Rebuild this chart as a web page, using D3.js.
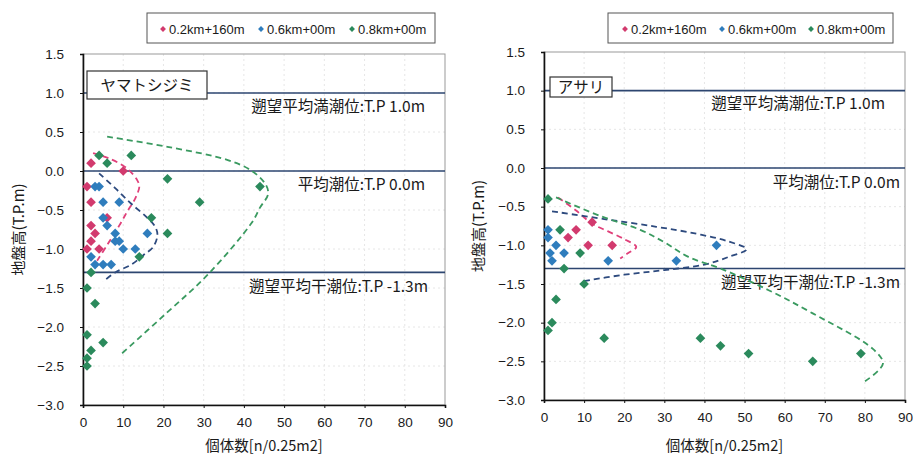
<!DOCTYPE html>
<html>
<head>
<meta charset="utf-8">
<style>
  body { margin: 0; background: #fff; }
  svg text { font-family: "Liberation Sans", "Noto Sans CJK JP", sans-serif; fill: #1a1a1a; }
  .jp { font-family: "Noto Sans CJK JP", sans-serif; }
  .axis path, .axis line { stroke: #111; }
  .grid line { stroke: #e6e6e6; stroke-dasharray: 2,3; }
  .tide { stroke: #2d4670; stroke-width: 1.6; }
  .curve { fill: none; stroke-width: 1.8; stroke-dasharray: 6,4; }
</style>
</head>
<body>
<div id="chart"></div>
<script src="https://d3js.org/d3.v7.min.js"></script>
<script>
const seriesNames = ['0.2km+160m', '0.6km+00m', '0.8km+00m'];
const pointColors = ['#d23a6e', '#2f7dbd', '#2b8a5c'];
const curveColors = ['#e0407a', '#2d4a7e', '#3a9a60'];
const xTicks = [0, 10, 20, 30, 40, 50, 60, 70, 80, 90];
const yTicks = [1.5, 1.0, 0.5, 0.0, -0.5, -1.0, -1.5, -2.0, -2.5, -3.0];
const tideLevels = [1.0, 0.0, -1.3];
const tideLabels = ['遡望平均満潮位:T.P 1.0m', '平均潮位:T.P 0.0m', '遡望平均干潮位:T.P -1.3m'];

// ヤマトシジミ  [個体数, 地盤高]
const shijimiRed = [[2, 0.1], [10, 0.0], [1, -0.2], [2, -0.4], [6, -0.6], [2, -0.7], [3, -0.8], [2, -0.9], [1, -1.0], [4, -1.0]];
const shijimiBlue = [[3, -0.2], [4, -0.2], [5, -0.4], [9, -0.4], [5, -0.6], [6, -0.7], [8, -0.8], [16, -0.8], [8, -0.9], [9, -0.9],
  [10, -1.0], [13, -1.0], [2, -1.1], [3, -1.2], [5, -1.2], [7, -1.2]];
const shijimiGreen = [[4, 0.2], [6, 0.1], [12, 0.2], [21, -0.1], [44, -0.2], [29, -0.4], [17, -0.6], [21, -0.8], [14, -1.1],
  [2, -1.3], [1, -1.5], [3, -1.7], [1, -2.1], [5, -2.2], [2, -2.3], [1, -2.4], [1, -2.5]];
const shijimiRedCurve = [[2.5, 0.23], [7, 0.15], [11, 0.03], [13.5, -0.12], [14, -0.2], [13, -0.35], [11, -0.52], [9, -0.7], [6, -0.95], [3.5, -1.15]];
const shijimiBlueCurve = [[4, -0.03], [8, -0.22], [12, -0.42], [16, -0.6], [18, -0.72], [18.5, -0.82], [17.5, -0.97], [15, -1.08], [12, -1.2], [8, -1.3], [5, -1.42]];
const shijimiGreenCurve = [[6, 0.44], [21, 0.31], [36, 0.14], [42, 0.0], [45.5, -0.18], [46, -0.3], [44, -0.47], [42, -0.66], [31, -1.33], [21, -1.81], [9, -2.37]];

// アサリ
const asariRed = [[12, -0.7], [8, -0.8], [6, -0.9], [11, -1.0], [17, -1.0]];
const asariBlue = [[1, -0.8], [1, -0.9], [3, -1.0], [1.5, -1.1], [5, -1.1], [2, -1.2], [16, -1.2], [43, -1.0], [33, -1.2]];
const asariGreen = [[1, -0.4], [4, -0.8], [9, -1.1], [5, -1.3], [10, -1.5], [3, -1.7], [2, -2.0], [1, -2.1], [15, -2.2],
  [39, -2.2], [44, -2.3], [51, -2.4], [67, -2.5], [79, -2.4]];
const asariRedCurve = [[3.5, -0.38], [8, -0.55], [12, -0.72], [16, -0.82], [20, -0.92], [23, -1.02], [21, -1.1], [19, -1.17]];
const asariBlueCurve = [[2, -0.56], [15, -0.66], [28, -0.76], [38, -0.85], [46, -0.95], [50.5, -1.05], [46, -1.15], [40, -1.25], [30, -1.32], [20, -1.38], [9, -1.47]];
const asariGreenCurve = [[3, -0.38], [14, -0.62], [24, -0.8], [30, -0.96], [36, -1.15], [44, -1.3], [56, -1.58], [67, -1.88], [82, -2.34], [84.5, -2.53], [80, -2.76]];

const svg = d3.select('#chart').append('svg')
  .attr('width', 913).attr('height', 455);

const diamond = d3.symbol().type(d3.symbolDiamond2);

function drawPanel(p) {
  const x = d3.scaleLinear().domain([0, 90]).range([p.left, p.right]);
  const y = d3.scaleLinear().domain([-3, 1.5]).range([p.bottom, p.top]);
  const g = svg.append('g');

  // faint grid
  g.append('g').attr('class', 'grid')
    .selectAll('line').data(yTicks.slice(1, -1)).join('line')
    .attr('x1', p.left).attr('x2', p.right).attr('y1', d => y(d)).attr('y2', d => y(d));
  g.append('g').attr('class', 'grid')
    .selectAll('line').data(xTicks.slice(1, -1)).join('line')
    .attr('x1', d => x(d)).attr('x2', d => x(d)).attr('y1', p.top).attr('y2', p.bottom);

  // frame
  g.append('rect').attr('x', p.left).attr('y', p.top)
    .attr('width', p.right - p.left).attr('height', p.bottom - p.top)
    .attr('fill', 'none').attr('stroke', '#999');

  // tide lines
  g.selectAll('.tide').data(tideLevels).join('line').attr('class', 'tide')
    .attr('x1', p.left).attr('x2', p.right).attr('y1', d => y(d)).attr('y2', d => y(d));
  g.selectAll('.tideLabel').data(tideLabels).join('text').attr('class', 'jp')
    .attr('x', (d, i) => p.labelX[i]).attr('y', (d, i) => y(tideLevels[i]) + p.labelDy[i])
    .attr('text-anchor', 'end').attr('font-size', 15.5).text(d => d);

  // axes
  g.append('g').attr('class', 'axis')
    .attr('transform', `translate(${p.left},0)`)
    .call(d3.axisLeft(y).tickValues(yTicks).tickFormat(d3.format('.1f')).tickSize(3).tickPadding(16))
    .call(a => a.select('.domain').attr('stroke-width', 1.6))
    .selectAll('text').attr('font-size', 13.5);
  g.append('g').attr('class', 'axis')
    .attr('transform', `translate(0,${p.bottom})`)
    .call(d3.axisBottom(x).tickValues(xTicks).tickSize(3).tickPadding(9))
    .call(a => a.select('.domain').attr('stroke-width', 1.6))
    .selectAll('text').attr('font-size', 13.5);

  // curves
  const line = d3.line().x(d => x(d[0])).y(d => y(d[1])).curve(d3.curveCatmullRom);
  g.selectAll('.curve').data(p.curves).join('path').attr('class', 'curve')
    .attr('stroke', (d, i) => curveColors[i]).attr('d', line);

  // points
  p.points.forEach((pts, i) => {
    g.append('g').selectAll('path').data(pts).join('path')
      .attr('transform', d => `translate(${x(d[0])},${y(d[1])})`)
      .attr('d', diamond.size(60)).attr('fill', pointColors[i]);
  });

  // species box
  g.append('rect').attr('x', p.box[0]).attr('y', p.box[1]).attr('width', p.box[2]).attr('height', p.box[3])
    .attr('fill', '#fff').attr('stroke', '#333').attr('stroke-width', 1.2);
  g.append('text').attr('class', 'jp').attr('x', p.box[0] + p.box[2] / 2).attr('y', p.box[1] + p.box[3] / 2 + 5.5)
    .attr('text-anchor', 'middle').attr('font-size', 15.5).text(p.species);

  // legend
  const lg = g.append('g');
  lg.append('rect').attr('x', p.legend[0]).attr('y', 13).attr('width', p.legend[1] - p.legend[0]).attr('height', 30)
    .attr('fill', '#fff').attr('stroke', '#555');
  seriesNames.forEach((s, i) => {
    lg.append('path').attr('transform', `translate(${p.legendX[i]},29)`)
      .attr('d', diamond.size(22)).attr('fill', pointColors[i]);
    lg.append('text').attr('x', p.legendX[i] + 6).attr('y', 33.5).attr('font-size', 13).text(s);
  });

  // axis titles
  g.append('text').attr('class', 'jp')
    .attr('transform', `translate(${p.yTitleX},${(p.top + p.bottom) / 2}) rotate(-90)`)
    .attr('text-anchor', 'middle').attr('font-size', 15).text('地盤高(T.P.m)');
  g.append('text').attr('class', 'jp')
    .attr('x', (p.left + p.right) / 2).attr('y', 451)
    .attr('text-anchor', 'middle').attr('font-size', 14.5).text('個体数[n/0.25m2]');
}

drawPanel({
  left: 83, right: 445, top: 54, bottom: 405,
  labelX: [425, 425, 428], labelDy: [18.5, 18.5, 19.5],
  points: [shijimiRed, shijimiBlue, shijimiGreen],
  curves: [shijimiRedCurve, shijimiBlueCurve, shijimiGreenCurve],
  species: 'ヤマトシジミ', box: [87, 71, 120, 28],
  legend: [147, 435], legendX: [163, 261, 352],
  yTitleX: 24
});

drawPanel({
  left: 544, right: 905, top: 52, bottom: 400,
  labelX: [885, 900, 900], labelDy: [18.5, 19.5, 19.5],
  points: [asariRed, asariBlue, asariGreen],
  curves: [asariRedCurve, asariBlueCurve, asariGreenCurve],
  species: 'アサリ', box: [550, 77, 62, 20],
  legend: [608, 893], legendX: [625, 722, 811],
  yTitleX: 484
});
</script>
</body>
</html>
